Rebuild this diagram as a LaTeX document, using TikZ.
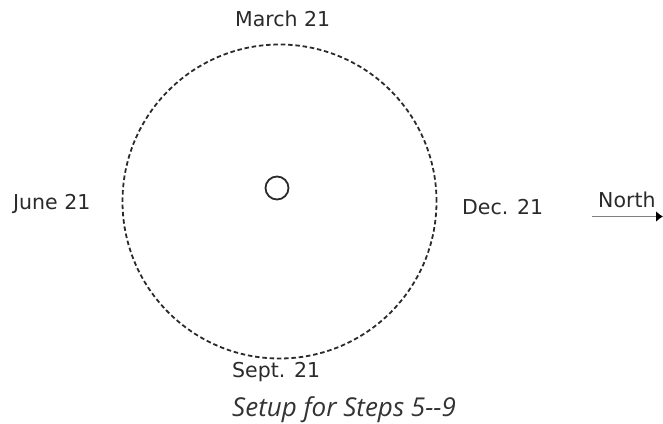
\documentclass[tikz,border=0pt]{standalone}
\usepackage{fontspec}
\setmainfont{DejaVu Sans}
\newfontfamily\capfont{Open Sans}
\usetikzlibrary{arrows.meta}
\definecolor{ink}{HTML}{2A2A2A}
\definecolor{capgray}{HTML}{333333}
\begin{document}
\begin{tikzpicture}[x=1pt,y=-1pt,
  lbl/.style={inner sep=0pt,anchor=base west,text=ink,font=\fontsize{20.5}{24}\selectfont},
  orbit/.style={draw=ink,line width=1.8pt,dash pattern=on 4.5pt off 2.8pt},
  sun/.style={draw=ink,circle,line width=1.8pt,minimum size=23pt,inner sep=0pt}]
\useasboundingbox (0,0) rectangle (663,423);
\node[orbit,circle,minimum size=314pt,inner sep=0pt] (orb) at (279.5,201.5) {};
\node[sun] (s) at (277,188) {};
\node[lbl] (mar) at (235,26) {March 21};
\node[lbl] (jun) at (13,209) {June 21};
\node[lbl] (dec) at (462,214) {Dec. 21};
\node[lbl] (sep) at (232,377) {Sept. 21};
\node[lbl] (nor) at (598,207) {North};
\coordinate (a0) at (592,216.5);
\coordinate (a1) at (663,216.5);
\draw[draw=gray,line width=1.8pt,-{Latex[length=7pt,width=11pt,color=black]}] (a0) -- (a1);
\node[inner sep=0pt,anchor=base west,text=capgray,font=\capfont\itshape\fontsize{26}{30}\selectfont] (cap) at (232,416) {Setup for Steps 5--9};
\end{tikzpicture}
\end{document}
